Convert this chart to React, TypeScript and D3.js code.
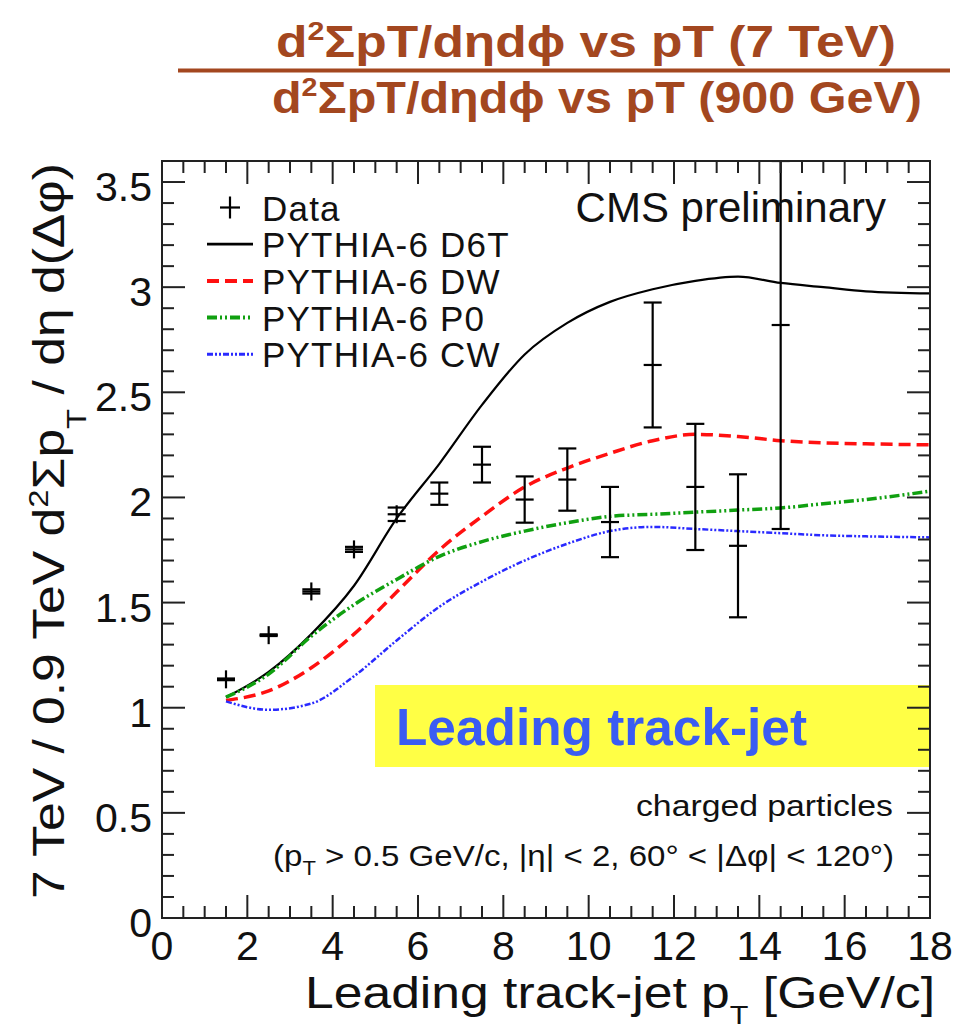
import React from 'react';
import * as d3 from 'd3';

// measured points (leading track-jet pT bins)
const ptData = [1.5, 2.5, 3.5, 4.5, 5.5, 6.5, 7.5, 8.5, 9.5, 10.5, 11.5, 12.5, 13.5, 14.5];
const ratioData = [1.135, 1.345, 1.553, 1.753, 1.92, 2.018, 2.156, 1.99, 2.085, 1.883, 2.63, 2.05, 1.77, 2.82];
const errData = [0.004, 0.004, 0.01, 0.012, 0.032, 0.053, 0.085, 0.11, 0.148, 0.167, 0.297, 0.3, 0.34, 0.97];

// PYTHIA-6 tunes
const ptModel = [1.5, 2.5, 3.5, 4.5, 5.5, 6.5, 7.5, 8.5, 9.5, 10.5, 11.5, 12.5, 13.5, 14.5, 15.5, 16.5, 18];
const d6t = [1.05, 1.17, 1.35, 1.58, 1.9, 2.16, 2.44, 2.68, 2.83, 2.93, 2.99, 3.03, 3.05, 3.02, 3.0, 2.98, 2.97];
const dw = [1.035, 1.08, 1.19, 1.35, 1.55, 1.75, 1.91, 2.05, 2.14, 2.21, 2.27, 2.3, 2.29, 2.27, 2.26, 2.255, 2.25];
const p0 = [1.05, 1.16, 1.34, 1.49, 1.61, 1.72, 1.79, 1.84, 1.88, 1.91, 1.92, 1.93, 1.94, 1.95, 1.97, 1.99, 2.03];
const cw = [1.03, 0.99, 1.02, 1.15, 1.32, 1.48, 1.6, 1.7, 1.78, 1.84, 1.86, 1.85, 1.84, 1.83, 1.82, 1.815, 1.81];

const xTicks = [0, 2, 4, 6, 8, 10, 12, 14, 16, 18];
const yTicks = [0, 0.5, 1, 1.5, 2, 2.5, 3, 3.5];
const yTickLabels = ['0', '0.5', '1', '1.5', '2', '2.5', '3', '3.5'];
const legendLabels = ['Data', 'PYTHIA-6 D6T', 'PYTHIA-6 DW', 'PYTHIA-6 P0', 'PYTHIA-6 CW'];

const W = 970;
const H = 1034;
const frame = { left: 162, right: 930, top: 161, bottom: 918 };
const titleColor = '#a3471f';
const font = 'Liberation Sans, Arial, Helvetica, sans-serif';

const curves = [
  { vals: d6t, color: '#000000', width: 2.2, dash: '' },
  { vals: dw, color: '#ff1010', width: 3.5, dash: '12 6' },
  { vals: p0, color: '#10a010', width: 3.5, dash: '10 3 2 3 2 3' },
  { vals: cw, color: '#2a2aff', width: 2.5, dash: '6 2 2 2 2 2' },
];

const App: React.FC = () => {
  const x = d3.scaleLinear().domain([0, 18]).range([frame.left, frame.right]);
  const y = d3.scaleLinear().domain([0, 3.6]).range([frame.bottom, frame.top]);

  const line = d3.line<number>()
    .x((_, i) => x(ptModel[i]))
    .y(d => y(d))
    .curve(d3.curveMonotoneX);

  const xMinor = d3.range(0, 18.001, 0.5);
  const yMinor = d3.range(0, 3.601, 0.1);
  const isMajorX = (v: number) => Math.abs(v / 2 - Math.round(v / 2)) < 1e-6;
  const isMajorY = (v: number) => Math.abs(v / 0.5 - Math.round(v / 0.5)) < 1e-6;

  const ms = 9; // marker half size in px
  const legendRowY = (i: number) => 207.5 + i * 36.7;

  return (
    <svg width={W} height={H} style={{ position: 'absolute', left: 0, top: 0, background: '#fff' }}
      fontFamily={font}>
      {/* title fraction */}
      <text x={276} y={57} fill={titleColor} fontWeight="bold" fontSize={44}
        textLength={620} lengthAdjust="spacingAndGlyphs">
        d<tspan fontSize={26} dy={-17}>2</tspan><tspan dy={17}>ΣpT/dηdϕ vs pT (7 TeV)</tspan>
      </text>
      <line x1={178} x2={950} y1={70.5} y2={70.5} stroke={titleColor} strokeWidth={4} />
      <text x={272} y={113} fill={titleColor} fontWeight="bold" fontSize={44}
        textLength={650} lengthAdjust="spacingAndGlyphs">
        d<tspan fontSize={26} dy={-17}>2</tspan><tspan dy={17}>ΣpT/dηdϕ vs pT (900 GeV)</tspan>
      </text>

      <defs>
        <clipPath id="plotArea">
          <rect x={frame.left} y={frame.top} width={frame.right - frame.left} height={frame.bottom - frame.top} />
        </clipPath>
      </defs>

      {/* yellow label box */}
      <rect x={375} y={685} width={frame.right - 375} height={82} fill="#ffff45" />
      <text x={396} y={745} fill="#3a5cf2" fontWeight="bold" fontSize={52}
        textLength={411} lengthAdjust="spacingAndGlyphs">Leading track-jet</text>

      {/* model curves */}
      <g clipPath="url(#plotArea)">
        {curves.map((c, i) => (
          <path key={i} d={line(c.vals) || ''} fill="none" stroke={c.color}
            strokeWidth={c.width} strokeDasharray={c.dash || undefined} />
        ))}
      </g>

      {/* data with error bars */}
      <g clipPath="url(#plotArea)" stroke="#000" strokeWidth={2.2}>
        {ptData.map((pt, i) => {
          const cx = x(pt);
          const cy = y(ratioData[i]);
          const yHi = y(Math.min(ratioData[i] + errData[i], 3.6));
          const yLo = y(ratioData[i] - errData[i]);
          return (
            <g key={i}>
              <line x1={cx} x2={cx} y1={Math.min(yHi, cy - ms)} y2={Math.max(yLo, cy + ms)} />
              <line x1={cx - ms} x2={cx + ms} y1={cy} y2={cy} />
              <line x1={cx - ms} x2={cx + ms} y1={yHi} y2={yHi} />
              <line x1={cx - ms} x2={cx + ms} y1={yLo} y2={yLo} />
            </g>
          );
        })}
      </g>

      {/* frame and ticks */}
      <rect x={frame.left} y={frame.top} width={frame.right - frame.left} height={frame.bottom - frame.top}
        fill="none" stroke="#222" strokeWidth={2} />
      <g stroke="#222" strokeWidth={2}>
        {xMinor.map((v, i) => {
          const len = isMajorX(v) ? 23 : 12;
          return (
            <g key={i}>
              <line x1={x(v)} x2={x(v)} y1={frame.bottom} y2={frame.bottom - len} />
              <line x1={x(v)} x2={x(v)} y1={frame.top} y2={frame.top + len} />
            </g>
          );
        })}
        {yMinor.map((v, i) => {
          const len = isMajorY(v) ? 23 : 12;
          return (
            <g key={i}>
              <line x1={frame.left} x2={frame.left + len} y1={y(v)} y2={y(v)} />
              <line x1={frame.right} x2={frame.right - len} y1={y(v)} y2={y(v)} />
            </g>
          );
        })}
      </g>

      {/* tick labels */}
      <g fontSize={41} fill="#111">
        {xTicks.map(v => (
          <text key={v} x={x(v)} y={frame.bottom + 42} textAnchor="middle">{v}</text>
        ))}
        {yTicks.map((v, i) => (
          <text key={v} x={152} y={y(v) + 19} textAnchor="end">{yTickLabels[i]}</text>
        ))}
      </g>

      {/* axis titles */}
      <text x={305} y={1008} fontSize={44} fill="#111" textLength={630} lengthAdjust="spacingAndGlyphs">
        Leading track-jet p<tspan fontSize={26} dy={16}>T</tspan><tspan dy={-16}> [GeV/c]</tspan>
      </text>
      <text transform="translate(64,531) rotate(-90)" textAnchor="middle" fontSize={44} fill="#111"
        textLength={736} lengthAdjust="spacingAndGlyphs">
        7 TeV / 0.9 TeV d<tspan fontSize={28} dy={-16}>2</tspan><tspan dy={16}>Σp</tspan>
        <tspan fontSize={28} dy={22}>T</tspan><tspan dy={-22}> / dη d(Δφ)</tspan>
      </text>

      {/* legend */}
      <g fontSize={35} fill="#111">
        {legendLabels.map((lab, i) => {
          const ly = legendRowY(i);
          return (
            <g key={lab}>
              {i === 0 ? (
                <g stroke="#000" strokeWidth={2.2}>
                  <line x1={230} x2={230} y1={ly - 11} y2={ly + 11} />
                  <line x1={220} x2={240} y1={ly} y2={ly} />
                </g>
              ) : (
                <line x1={207} x2={253} y1={ly} y2={ly} stroke={curves[i - 1].color}
                  strokeWidth={curves[i - 1].width + 0.5} strokeDasharray={curves[i - 1].dash || undefined} />
              )}
              <text x={262} y={ly + 13} style={{ letterSpacing: '1.2px' }}>{lab}</text>
            </g>
          );
        })}
      </g>

      <text x={886} y={222} fontSize={42} fill="#111" textAnchor="end">CMS preliminary</text>

      <text x={636} y={816} fontSize={30} fill="#111" textLength={257} lengthAdjust="spacingAndGlyphs">charged particles</text>
      <text x={273} y={866} fontSize={30} fill="#111" textLength={621} lengthAdjust="spacingAndGlyphs">
        (p<tspan fontSize={20} dy={9}>T</tspan><tspan dy={-9}> &gt; 0.5 GeV/c, |η| &lt; 2, 60° &lt; |Δφ| &lt; 120°)</tspan>
      </text>
    </svg>
  );
};

export default App;
